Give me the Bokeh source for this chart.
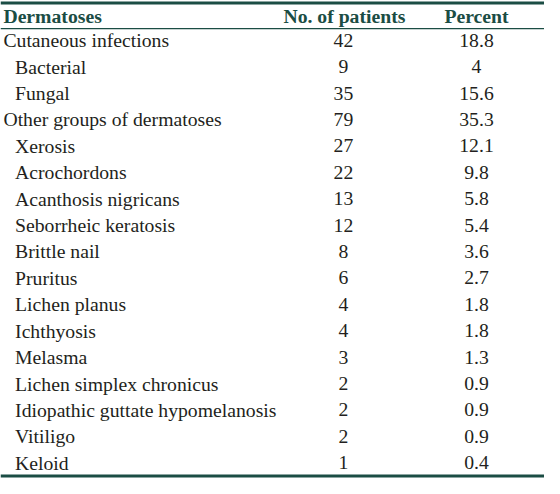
from bokeh.plotting import figure
from bokeh.models import ColumnDataSource
from bokeh.core.properties import value
from bokeh.embed import file_html
from bokeh.resources import INLINE

# ---- data ----
headers = ["Dermatoses", "No. of patients", "Percent"]
labels = ["Cutaneous infections", "Bacterial", "Fungal", "Other groups of dermatoses",
          "Xerosis", "Acrochordons", "Acanthosis nigricans", "Seborrheic keratosis",
          "Brittle nail", "Pruritus", "Lichen planus", "Ichthyosis", "Melasma",
          "Lichen simplex chronicus", "Idiopathic guttate hypomelanosis", "Vitiligo", "Keloid"]
is_sub = [0, 1, 1, 0, 1, 1, 1, 1, 1, 1, 1, 1, 1, 1, 1, 1, 1]
patients = [42, 9, 35, 79, 27, 22, 13, 12, 8, 6, 4, 4, 3, 2, 2, 2, 1]
percent = ["18.8", "4", "15.6", "35.3", "12.1", "9.8", "5.8", "5.4", "3.6", "2.7",
           "1.8", "1.8", "1.3", "0.9", "0.9", "0.9", "0.4"]

# ---- layout (reference pixel space) ----
W, H = 560, 494
s = 544 / W
FONT = value("Liberation Serif")
fs = f"{20.3 * s:.1f}px"
TEXT_C = "#231f20"
TEAL = "#1b4d44"

shift = -7.0
row0, step = 48.0 + shift, 27.3
ys = [row0 + i * step for i in range(len(labels))]
xs_label = [3 + 12 * k for k in is_sub]

p = figure(width=544, height=478, x_range=(0, W), y_range=(H, 0),
           output_backend="svg", toolbar_location=None, min_border=0)
p.axis.visible = False
p.grid.visible = False
p.outline_line_color = None
p.background_fill_color = "white"
p.border_fill_color = "white"

# rules
rules = ColumnDataSource(dict(x0=[0, 0, 0], x1=[W, W, W], y=[2.5, 29.0, 491.5],
                              w=[3, 1.2, 3]))
p.segment(x0="x0", x1="x1", y0="y", y1="y", line_width="w", line_color=TEAL,
          source=rules)

# header
hsrc = ColumnDataSource(dict(x=[3, 354, 490], y=[22.7 + shift] * 3, t=headers,
                             a=["left", "center", "center"]))
p.text(x="x", y="y", text="t", text_align="a", source=hsrc, text_font=FONT,
       text_font_size=fs, text_font_style="bold", text_color=TEAL,
       text_baseline="alphabetic")

# body
src = ColumnDataSource(dict(xl=xs_label, y=ys, lab=labels,
                            n=[str(v) for v in patients], pc=percent))
p.text(x="xl", y="y", text="lab", source=src, text_font=FONT, text_font_size=fs,
       text_color=TEXT_C, text_baseline="alphabetic", text_align="left")
p.text(x=353, y="y", text="n", source=src, text_font=FONT, text_font_size=fs,
       text_color=TEXT_C, text_baseline="alphabetic", text_align="center")
p.text(x=490, y="y", text="pc", source=src, text_font=FONT, text_font_size=fs,
       text_color=TEXT_C, text_baseline="alphabetic", text_align="center")

open("out.html", "w").write(file_html(p, INLINE))
